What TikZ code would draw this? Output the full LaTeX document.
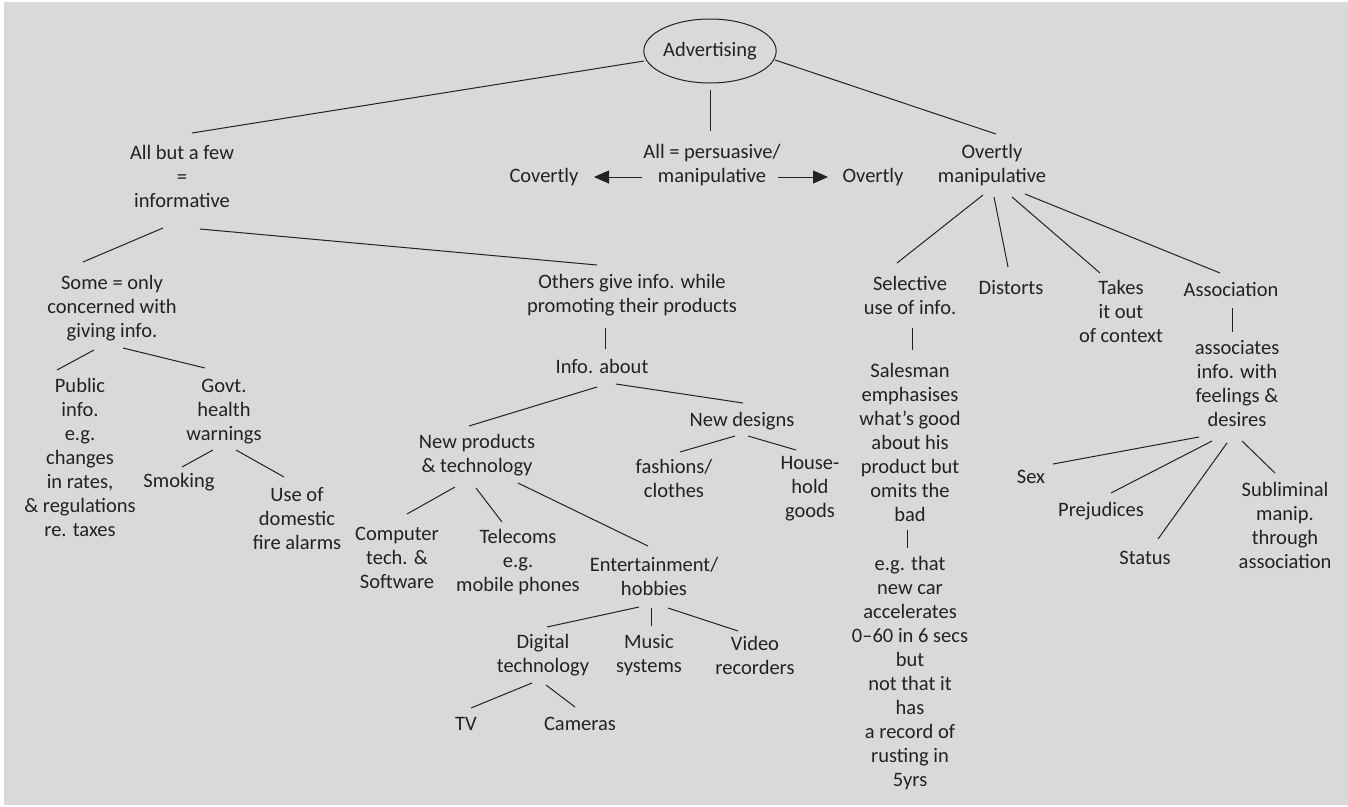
\documentclass[tikz,border=0pt]{standalone}
\usepackage{fontspec}
\setmainfont{Carlito}
\usetikzlibrary{arrows.meta,shapes.geometric}
\definecolor{bg}{HTML}{D9D9D9}
\definecolor{ink}{HTML}{222222}
\newcommand\cnx[4]{\draw[conn] ([shift={(#2)}]#1.center) -- ([shift={(#4)}]#3.center);}
\begin{document}
\begin{tikzpicture}[x=1pt,y=-1pt,
  lbl/.style={align=center,inner sep=0pt,text=ink,font=\fontsize{20.5}{24}\selectfont},
  conn/.style={draw=ink,line width=1pt},
  arr/.style={draw=ink,line width=1pt,-{Triangle[length=15pt,width=13pt]}}]
\useasboundingbox (0,0) rectangle (1348,806);
\fill[white] (0,0) rectangle (1348,806);
\fill[bg] (4,2) rectangle (1348,805);
% nodes
\node[lbl,draw=ink,line width=1pt,ellipse,minimum width=131pt,minimum height=64pt] (adv) at (710,51) {Advertising};
\node[lbl] (allbut) at (182,176) {All but a few\\=\\informative};
\node[lbl] (allp) at (712,165) {All = persuasive/\\manipulative};
\node[lbl] (cov) at (544,177) {Covertly};
\node[lbl] (ovt) at (873,177) {Overtly};
\node[lbl] (om) at (992,165) {Overtly\\manipulative};
\node[lbl] (some) at (112,308) {Some = only\\concerned with\\giving info.};
\node[lbl] (others) at (632,295) {Others give info. while\\promoting their products};
\node[lbl] (sel) at (910,295) {Selective\\use of info.};
\node[lbl] (dist) at (1011,288) {Distorts};
\node[lbl] (takes) at (1121,311) {Takes\\it out\\of context};
\node[lbl] (assoc) at (1231,289) {Association};
\node[lbl] (salesman) at (910,442) {Salesman\\emphasises\\what’s good\\about his\\product but\\omits the\\bad};
\node[lbl] (eg) at (910,673) {e.g. that\\new car\\accelerates\\0–60 in 6 secs\\but\\not that it\\has\\a record of\\rusting in\\5yrs};
\node[lbl] (associates) at (1237,384) {associates\\info. with\\feelings \&\\desires};
\node[lbl] (public) at (80,457) {Public\\info.\\e.g.\\changes\\in rates,\\\& regulations\\re. taxes};
\node[lbl] (govt) at (224,412) {Govt.\\health\\warnings};
\node[lbl] (smoking) at (179,482) {Smoking};
\node[lbl] (use) at (297,519) {Use of\\domestic\\fire alarms};
\node[lbl] (info) at (602,366) {Info. about};
\node[lbl] (newprod) at (477,455) {New products\\\& technology};
\node[lbl] (newdes) at (742,421) {New designs};
\node[lbl] (fashion) at (674,478) {fashions/\\clothes};
\node[lbl] (house) at (810,489) {House-\\hold\\goods};
\node[lbl] (comp) at (397,558) {Computer\\tech. \&\\Software};
\node[lbl] (tele) at (518,562) {Telecoms\\e.g.\\mobile phones};
\node[lbl] (ent) at (654,576) {Entertainment/\\hobbies};
\node[lbl] (digital) at (543,655) {Digital\\technology};
\node[lbl] (music) at (649,655) {Music\\systems};
\node[lbl] (video) at (755,655) {Video\\recorders};
\node[lbl] (tv) at (466,724) {TV};
\node[lbl] (cam) at (580,724) {Cameras};
\node[lbl] (sex) at (1031,477) {Sex};
\node[lbl] (prej) at (1101,511) {Prejudices};
\node[lbl] (status) at (1145,558) {Status};
\node[lbl] (subl) at (1285,525) {Subliminal\\manip.\\through\\association};
% connectors
\cnx{adv}{-66,10}{allbut}{10,-43}
\cnx{adv}{65,9}{om}{4,-31}
\cnx{adv}{0,39}{allp}{-2,-34}
\draw[arr] ([shift={(-70,12)}]allp.center) -- ([shift={(50,0)}]cov.center);
\draw[arr] ([shift={(66,12)}]allp.center) -- ([shift={(-45,0)}]ovt.center);
\cnx{allbut}{-19,52}{some}{-29,-46}
\cnx{allbut}{18,53}{others}{-35,-30}
\cnx{om}{-9,30}{sel}{-13,-32}
\cnx{om}{2,32}{dist}{-3,-21}
\cnx{om}{20,32}{takes}{-21,-38}
\cnx{om}{33,29}{assoc}{-11,-16}
\cnx{sel}{2,33}{salesman}{2,-92}
\cnx{salesman}{-3,88}{eg}{-3,-125}
\cnx{assoc}{1,19}{associates}{-5,-52}
\cnx{associates}{-38,53}{sex}{22,-13}
\cnx{associates}{-25,57}{prej}{10,-18}
\cnx{associates}{-10,59}{status}{13,-19}
\cnx{associates}{5,57}{subl}{-10,-52}
\cnx{some}{-18,42}{public}{-23,-87}
\cnx{some}{11,40}{govt}{-19,-44}
\cnx{govt}{-11,38}{smoking}{3,-15}
\cnx{govt}{12,38}{use}{-13,-42}
\cnx{others}{-27,33}{info}{3,-17}
\cnx{info}{-5,21}{newprod}{-8,-29}
\cnx{info}{14,18}{newdes}{1,-18}
\cnx{newdes}{-7,15}{fashion}{6,-26}
\cnx{newdes}{6,15}{house}{-14,-39}
\cnx{newprod}{-22,32}{comp}{10,-44}
\cnx{newprod}{-1,33}{tele}{-16,-40}
\cnx{newprod}{41,28}{ent}{-6,-30}
\cnx{ent}{-15,31}{digital}{4,-28}
\cnx{ent}{-3,32}{music}{2,-29}
\cnx{ent}{14,32}{video}{-17,-24}
\cnx{digital}{-11,28}{tv}{5,-16}
\cnx{digital}{3,30}{cam}{-5,-17}
\end{tikzpicture}
\end{document}
